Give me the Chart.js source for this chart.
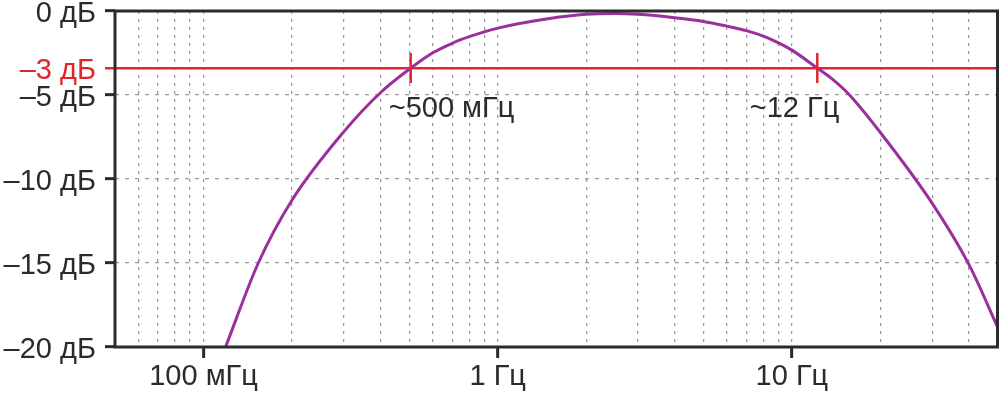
<!DOCTYPE html>
<html>
<head>
<meta charset="utf-8">
<script src="https://cdn.jsdelivr.net/npm/chart.js@4.4.1/dist/chart.umd.min.js"></script>
<style>
  html, body { margin: 0; padding: 0; background: #fff; }
  #wrap { width: 1000px; height: 397px; }
</style>
</head>
<body>
<div id="wrap"><canvas id="chart" width="1000" height="397"></canvas></div>
<script>
// Частотная характеристика
const freqHz = [0.1188, 0.1535, 0.2, 0.3, 0.4, 0.506, 0.6, 0.7, 0.8, 0.9, 1, 1.5, 2, 2.5, 3, 4, 5, 6, 7, 8, 9, 10, 12.2, 13.6, 15.7, 20, 30, 40, 50];
const gainDb = [-20, -15, -11.25, -7.18, -4.85, -3.4, -2.5, -1.92, -1.53, -1.24, -1.02, -0.45, -0.2, -0.15, -0.2, -0.4, -0.62, -0.9, -1.17, -1.5, -1.9, -2.33, -3.4, -4.0, -5, -7.24, -11.45, -15.1, -18.8];

// Точки среза
const cutoffHz = [0.506, 12.2];
const cutoffDb = -3.4;
const cutoffLabels = ['~500 мГц', '~12 Гц'];

// Оси
const yTicks = [0, -3.4, -5, -10, -15, -20];
const yTickLabels = ['0 дБ', '–3 дБ', '–5 дБ', '–10 дБ', '–15 дБ', '–20 дБ'];
const xGrid = [0.05, 0.06, 0.07, 0.08, 0.09, 0.1, 0.2, 0.3, 0.4, 0.5, 0.6, 0.7, 0.8, 0.9,
               1, 2, 3, 4, 5, 6, 7, 8, 9, 10, 20, 30, 40, 50];
const xLabelValues = [0.1, 1, 10];
const xLabelTexts = ['100 мГц', '1 Гц', '10 Гц'];

const DARK = '#2b2b2b';
const RED = '#e0262c';
const PURPLE = '#9b2f9e';
const GRID = '#9a9a9a';
const FONT_FAMILY = '"Liberation Sans", Arial, sans-serif';

// Рамка и подписи точек среза
const framePlugin = {
    id: 'frame',
    afterDatasetsDraw(chart) {
        const { ctx, scales } = chart;
        ctx.save();
        ctx.font = '29px ' + FONT_FAMILY;
        ctx.fillStyle = DARK;
        ctx.textBaseline = 'alphabetic';
        const y = scales.y.getPixelForValue(cutoffDb) + 49;
        const x0 = scales.x.getPixelForValue(cutoffHz[0]);
        const x1 = scales.x.getPixelForValue(cutoffHz[1]);
        ctx.textAlign = 'left';
        ctx.fillText(cutoffLabels[0], x0 - 22, y);
        ctx.textAlign = 'right';
        ctx.fillText(cutoffLabels[1], x1 + 22, y);
        ctx.restore();
    },
    afterDraw(chart) {
        const { ctx, chartArea } = chart;
        ctx.save();
        ctx.strokeStyle = DARK;
        ctx.lineWidth = 3;
        ctx.setLineDash([]);
        ctx.strokeRect(chartArea.left, chartArea.top, chartArea.right - chartArea.left, chartArea.bottom - chartArea.top);
        ctx.restore();
    }
};

new Chart(document.getElementById('chart'), {
    type: 'line',
    data: {
        datasets: [
            {
                data: cutoffHz.map(f => ({ x: f, y: cutoffDb })),
                showLine: false,
                pointStyle: 'line',
                rotation: 90,
                radius: 15,
                borderColor: RED,
                borderWidth: 2.5,
                order: 0
            },
            {
                data: freqHz.map((f, i) => ({ x: f, y: gainDb[i] })),
                borderColor: PURPLE,
                borderWidth: 3,
                pointRadius: 0,
                cubicInterpolationMode: 'monotone',
                order: 1
            }
        ]
    },
    plugins: [framePlugin],
    options: {
        responsive: false,
        animation: false,
        events: [],
        layout: { autoPadding: false, padding: { top: 11, right: 2.5, left: 0, bottom: 0 } },
        plugins: { legend: { display: false }, tooltip: { enabled: false } },
        scales: {
            x: {
                type: 'logarithmic',
                min: 0.05,
                max: 50,
                afterBuildTicks: scale => { scale.ticks = xGrid.map(v => ({ value: v })); },
                afterFit: scale => { scale.height = 50; scale.paddingLeft = 0; scale.paddingRight = 0; },
                border: { display: false, dash: [3, 5] },
                grid: {
                    color: c => (c.tick && (c.tick.value === 0.05 || c.tick.value === 50)) ? 'rgba(0,0,0,0)' : GRID,
                    lineWidth: 1.3,
                    tickLength: 11,
                    tickWidth: 3,
                    tickColor: c => (c.tick && xLabelValues.includes(c.tick.value)) ? DARK : 'rgba(0,0,0,0)'
                },
                ticks: {
                    autoSkip: false,
                    maxRotation: 0,
                    minRotation: 0,
                    padding: 2,
                    color: DARK,
                    font: { family: FONT_FAMILY, size: 29 },
                    callback: v => {
                        const i = xLabelValues.indexOf(v);
                        return i >= 0 ? xLabelTexts[i] : '';
                    }
                }
            },
            y: {
                type: 'linear',
                min: -20,
                max: 0,
                afterBuildTicks: scale => { scale.ticks = yTicks.map(v => ({ value: v })); },
                afterFit: scale => { scale.width = 115; scale.paddingTop = 0; scale.paddingBottom = 0; },
                border: { display: false, dash: c => (c.tick && c.tick.value === cutoffDb) ? [] : [4, 6] },
                grid: {
                    color: c => {
                        if (!c.tick) return GRID;
                        if (c.tick.value === cutoffDb) return RED;
                        if (c.tick.value === 0 || c.tick.value === -20) return 'rgba(0,0,0,0)';
                        return GRID;
                    },
                    lineWidth: c => (c.tick && c.tick.value === cutoffDb) ? 2.5 : 1.3,
                    tickLength: 10,
                    tickWidth: c => (c.tick && c.tick.value === cutoffDb) ? 2.5 : 3,
                    tickColor: c => (c.tick && c.tick.value === cutoffDb) ? RED : DARK
                },
                ticks: {
                    padding: 9,
                    labelOffset: 3,
                    font: { family: FONT_FAMILY, size: 29, lineHeight: 0.5 },
                    color: c => (c.tick && c.tick.value === cutoffDb) ? RED : DARK,
                    callback: (v, i) => yTickLabels[i]
                }
            }
        }
    }
});
</script>
</body>
</html>
